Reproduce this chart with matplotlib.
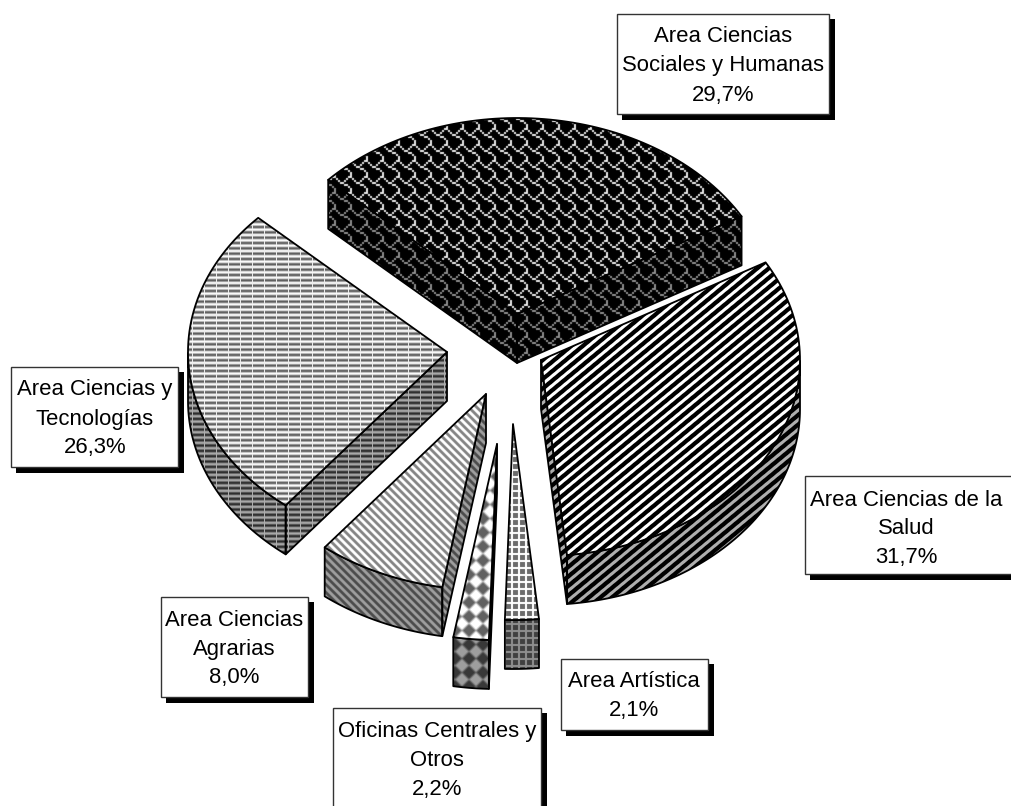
import numpy as np
import matplotlib
matplotlib.use("Agg")
import matplotlib.pyplot as plt
from matplotlib.patches import Polygon, Rectangle

plt.rcParams['font.family'] = ['Liberation Sans', 'DejaVu Sans']

W, H = 1012, 806

# data
categories = ['Area Ciencias\nSociales y Humanas', 'Area Ciencias de la\nSalud', 'Area Artística',
              'Oficinas Centrales y\nOtros', 'Area Ciencias\nAgrarias', 'Area Ciencias y\nTecnologías']
values = [29.7, 31.7, 2.1, 2.2, 8.0, 26.3]
value_labels = ['29,7%', '31,7%', '2,1%', '2,2%', '8,0%', '26,3%']

# layout / style
START = -46.8
RX, RY, DEPTH = 259.0, 196.0, 49.0
CENTER = (500.0, 350.0)
explode = [(17, -36), (41, 10), (13, 74), (-3, 94), (-14, 44), (-53, 2)]
label_boxes = [(617, 14, 212, 100), (805, 476, 225, 98), (561, 659, 147, 71),
               (333, 708, 208, 110), (161, 597, 147, 100), (11, 367, 167, 100)]
label_text_x = [723, 906, 634, 437, 234, 95]
label_text_y = [66, 529, 696, 760, 649, 419]

yy, xx = np.mgrid[0:H, 0:W]

def smooth(t, w=0.5):
    n = (np.roll(t, 1, 0) + np.roll(t, -1, 0) + np.roll(t, 1, 1) + np.roll(t, -1, 1)) / 4
    return (1 - w) * t + w * n

def stripes(dark=0.0, light=1.0):
    t = (xx / 11.5 + yy / 9.5) % 1
    v = 0.5 + 0.5 * np.cos(2 * np.pi * t)
    v = np.clip((v - 0.18) / 0.40, 0, 1)
    return dark + (light - dark) * (1 - v)

SHINGLE_ROWS = [0x03, 0x84, 0x48, 0x30, 0x0C, 0x02, 0x01, 0x01]
shingle_bits = np.array([[(r >> (7 - c)) & 1 for c in range(8)] for r in SHINGLE_ROWS], float)

def shingle(line=0.95):
    t = shingle_bits[(yy // 2) % 8, (xx // 2) % 8]
    return smooth(t * line, 0.45)

def lines_h(base, amp, vline):
    t = base + amp * np.cos(2 * np.pi * yy / 5.33)
    v = (xx % 12) < 1
    t = np.where(v, np.maximum(t, vline), t)
    return np.clip(t, 0, 1)

def fine_diag(a, b):
    t = (xx - yy) % 8
    return smooth(np.where(t < 4, a, b), 0.4)

def diamonds(a, b):
    px = 28.0
    u = ((xx + yy) % px) / px
    v = ((xx - yy) % px) / px
    m = (u < 0.5) ^ (v < 0.5)
    return smooth(smooth(np.where(m, a, b), 0.7), 0.7)

def grid_tex(bg, line):
    t = np.full((H, W), bg, float)
    t[(xx % 7) < 2] = line
    t[(yy % 7) < 2] = line
    return smooth(t, 0.25)

tops = [shingle(0.9), stripes(0.0, 1.0), grid_tex(0.42, 1.0),
        diamonds(1.0, 0.38), fine_diag(1.0, 0.52), lines_h(0.68, 0.30, 0.92)]
sides = [shingle(0.55), stripes(0.0, 0.68), grid_tex(0.25, 0.56),
         diamonds(0.62, 0.22), fine_diag(0.62, 0.30), lines_h(0.42, 0.24, 0.68)]
walls = [sides[0], sides[1], sides[2], np.zeros((H, W)), sides[4], sides[5]]

fig = plt.figure(figsize=(W / 100, H / 100), dpi=100)
ax = fig.add_axes([0, 0, 1, 1])
ax.set_xlim(0, W)
ax.set_ylim(H, 0)
ax.axis('off')

def textured(points, tex, z):
    poly = Polygon(points, closed=True, facecolor='none', edgecolor='black', lw=1.3, zorder=z + 0.5, joinstyle='round')
    ax.add_patch(poly)
    im = ax.imshow(tex, cmap='gray', vmin=0, vmax=1, extent=(0, W, H, 0), zorder=z,
                   interpolation='nearest', aspect='auto')
    clip = Polygon(points, closed=True, transform=ax.transData)
    im.set_clip_path(clip)

fracs = np.array(values) / sum(values) * 360
edges = START + np.concatenate([[0], np.cumsum(fracs)])

def rim(ax0, ay0, a, b):
    th = np.radians(np.linspace(a, b, 80))
    return np.column_stack([ax0 + RX * np.sin(th), ay0 - RY * np.cos(th)])

# back-to-front drawing order
order = [0, 5, 4, 3, 2, 1]
for k, i in enumerate(order):
    a, b = edges[i], edges[i + 1]
    ax0 = CENTER[0] + explode[i][0]
    ay0 = CENTER[1] + explode[i][1]
    arc = rim(ax0, ay0, a, b)
    apex = np.array([ax0, ay0])
    z = 2 + k * 2
    down = np.array([0, DEPTH])
    for p in (arc[0], arc[-1]):
        wall = np.array([apex, p, p + down, apex + down])
        mid_dir = np.array([np.sin(np.radians((a + b) / 2)), -np.cos(np.radians((a + b) / 2))])
        normal = np.array([-(p - apex)[1], (p - apex)[0]])
        if np.dot(normal, mid_dir * np.array([RX, RY])) > 0:
            normal = -normal
        if normal[1] > 0:
            textured(wall, walls[i], z)
    ang = np.linspace(a, b, 160)
    front = ang[np.cos(np.radians(ang)) < 0]
    if front.size > 1:
        r = rim(ax0, ay0, front[0], front[-1])
        textured(np.vstack([r, (r + down)[::-1]]), sides[i], z)
    textured(np.vstack([apex, arc]), tops[i], z + 1)

# labels
for name, val, (x, y, w, h), tx, ty in zip(categories, value_labels, label_boxes, label_text_x, label_text_y):
    ax.add_patch(Rectangle((x + 5, y + 5), w + 1, h + 1, facecolor='black', edgecolor='none', zorder=30))
    ax.add_patch(Rectangle((x, y), w, h, facecolor='white', edgecolor='#333333', lw=1.0, zorder=31))
    ax.text(tx, ty, name + '\n' + val, ha='center', va='center', fontsize=15.9,
            linespacing=1.5, color='black', zorder=32)

fig.savefig('out.png', dpi=100)
